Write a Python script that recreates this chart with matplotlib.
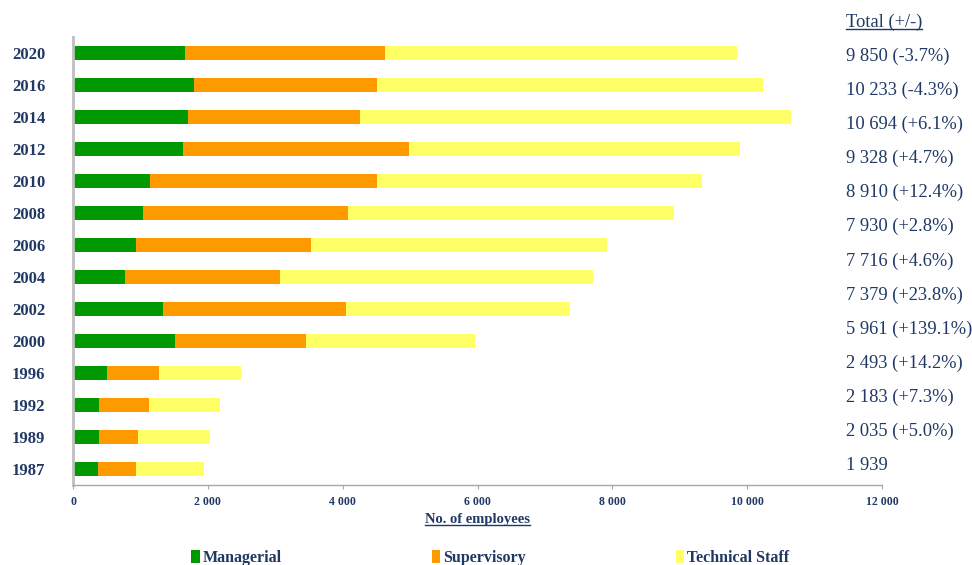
import numpy as np
import matplotlib
matplotlib.use("Agg")
import matplotlib.pyplot as plt
from matplotlib.patches import Patch
from matplotlib.lines import Line2D
from matplotlib.ticker import FuncFormatter

# Data (bottom row first)
years = ["1987", "1989", "1992", "1996", "2000", "2002", "2004",
         "2006", "2008", "2010", "2012", "2014", "2016", "2020"]
managerial = [370, 385, 385, 504, 1511, 1333, 775,
              938, 1037, 1146, 1630, 1704, 1793, 1659]
supervisory = [563, 578, 741, 775, 1941, 2711, 2292,
               2598, 3037, 3368, 3353, 2553, 2721, 2963]
technical = [1003, 1071, 1057, 1210, 2504, 3334, 4647,
             4390, 4845, 4814, 4913, 6390, 5723, 5228]

# right-hand column of totals, top to bottom, as printed
total_labels = ["9 850 (-3.7%)", "10 233 (-4.3%)", "10 694 (+6.1%)",
                "9 328 (+4.7%)", "8 910 (+12.4%)", "7 930 (+2.8%)",
                "7 716 (+4.6%)", "7 379 (+23.8%)", "5 961 (+139.1%)",
                "2 493 (+14.2%)", "2 183 (+7.3%)", "2 035 (+5.0%)", "1 939"]

series_names = ["Managerial", "Supervisory", "Technical Staff"]
colors = ["#009900", "#FF9900", "#FFFF66"]
navy = "#1F3864"
serif = "Liberation Serif"

W, H = 972, 565
fig = plt.figure(figsize=(W / 100, H / 100), dpi=100)
ax = fig.add_axes([73 / W, 1 - 485 / H, (882 - 73) / W, (485 - 37) / H])

y = np.arange(len(years))
left = np.zeros(len(years))
for vals, c in zip([managerial, supervisory, technical], colors):
    ax.barh(y, vals, left=left, height=0.42, color=c, edgecolor="none")
    left = left + np.array(vals)

ax.set_xlim(0, 12000)
ax.set_ylim(-0.5, len(years) - 0.5)
ax.set_xticks(range(0, 12001, 2000))
ax.xaxis.set_major_formatter(FuncFormatter(lambda v, p: f"{int(v):,}".replace(",", " ")))
ax.set_yticks(y)
ax.set_yticklabels(years)

for s in ["top", "right"]:
    ax.spines[s].set_visible(False)
ax.spines["left"].set_color("#BFBFBF")
ax.spines["left"].set_linewidth(2)
ax.spines["bottom"].set_color("#A6A6A6")
ax.spines["bottom"].set_linewidth(1)

ax.tick_params(axis="y", length=0, pad=20)
ax.tick_params(axis="x", length=3, color="#A6A6A6", pad=5)
for lab in ax.get_yticklabels():
    lab.set_fontfamily(serif)
    lab.set_fontweight("bold")
    lab.set_fontsize(12)
    lab.set_color(navy)
for lab in ax.get_xticklabels():
    lab.set_fontfamily(serif)
    lab.set_fontweight("bold")
    lab.set_fontsize(8.5)
    lab.set_color(navy)

# totals column
ys = np.linspace(1 - 56 / H, 1 - 466 / H, len(total_labels))
for t, yy in zip(total_labels, ys):
    fig.text(846 / W, yy, t, fontfamily=serif, fontsize=13.3, color=navy, va="center", ha="left")

title_t = fig.text(846 / W, 1 - 22 / H, "Total (+/-)", fontfamily=serif, fontsize=13.3,
                   color=navy, va="center", ha="left")
xlab_t = fig.text(477 / W, 1 - 519 / H, "No. of employees", fontfamily=serif, fontsize=10.5,
                  fontweight="bold", color=navy, va="center", ha="center")

# legend at the bottom
handles = [Patch(facecolor=c, edgecolor="none") for c in colors]
leg = fig.legend(handles, series_names, loc="center", bbox_to_anchor=(490 / W, 1 - 558 / H),
                 ncol=3, frameon=False, handlelength=0.55, handleheight=0.8,
                 handletextpad=0.15, columnspacing=9.4,
                 prop={"family": serif, "weight": "bold", "size": 11.5})
for txt in leg.get_texts():
    txt.set_color(navy)

# underline the two headings
fig.canvas.draw()
r = fig.canvas.get_renderer()
for t, off in [(title_t, 2), (xlab_t, 1)]:
    bb = t.get_window_extent(r)
    yl = (bb.y0 + off) / H
    fig.add_artist(Line2D([bb.x0 / W, bb.x1 / W], [yl, yl], color=navy, lw=1))

fig.savefig("out.png", dpi=100)
